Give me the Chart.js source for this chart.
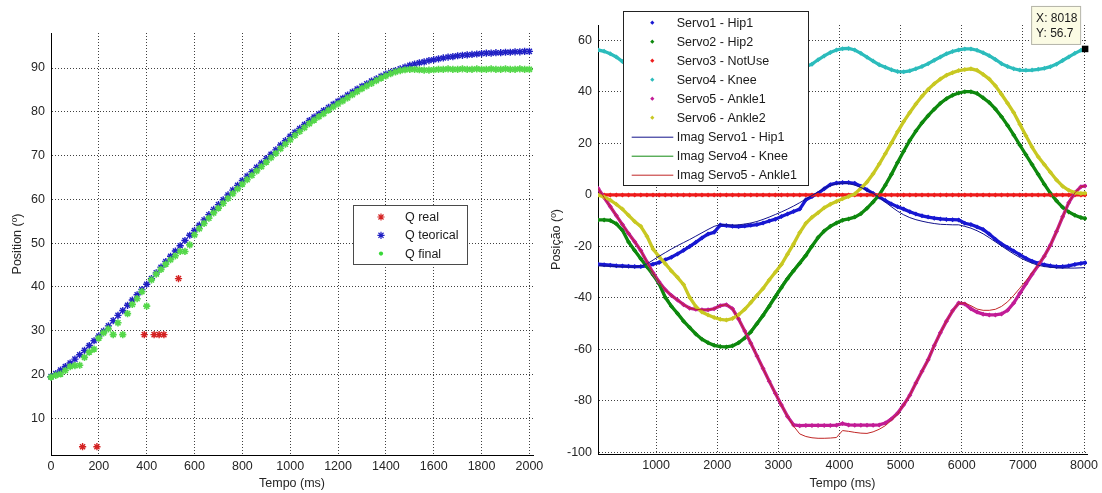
<!DOCTYPE html>
<html>
<head>
<meta charset="utf-8">
<script src="https://cdn.jsdelivr.net/npm/chart.js@4.4.1/dist/chart.umd.min.js"></script>
<style>
  html, body { margin: 0; padding: 0; background: #fff; }
  #wrap { position: relative; width: 1102px; height: 493px; overflow: hidden; background: #fff; }
  #left { position: absolute; left: 0; top: 0; width: 550px; height: 493px; }
  #right { position: absolute; left: 550px; top: 0; width: 552px; height: 493px; }
</style>
</head>
<body>
<div id="wrap">
  <canvas id="left" width="550" height="493"></canvas>
  <canvas id="right" width="552" height="493"></canvas>
</div>
<script>
// ---------- Left plot: joint position over time (sampled every 20 ms) ----------
const qStepMs = 20;
const qTeorical = [
  19.5, 20.2, 21.0, 21.8, 22.6, 23.5,
  24.5, 25.5, 26.6, 27.7, 28.8,
  29.9, 31.1, 32.3, 33.5, 34.6,
  35.8, 37.0, 38.2, 39.4, 40.6,
  41.9, 43.2, 44.5, 45.8, 47.0,
  48.2, 49.4, 50.6, 51.8, 52.9,
  54.1, 55.3, 56.5, 57.7, 58.8,
  59.9, 61.0, 62.1, 63.2, 64.3,
  65.3, 66.3, 67.3, 68.3, 69.3,
  70.3, 71.3, 72.4, 73.4, 74.4,
  75.3, 76.2, 77.1, 78.0, 78.8,
  79.5, 80.3, 81.0, 81.7, 82.4,
  83.1, 83.8, 84.5, 85.2, 85.8,
  86.4, 87.0, 87.5, 88.1, 88.6,
  89.0, 89.4, 89.8, 90.2, 90.6,
  90.9, 91.2, 91.4, 91.7, 91.9,
  92.1, 92.3, 92.5, 92.6, 92.8,
  92.9, 93.0, 93.1, 93.2, 93.3,
  93.4, 93.4, 93.5, 93.5, 93.6,
  93.6, 93.7, 93.7, 93.8, 93.8
];
const qFinal = [
  19.4, 19.8, 20.1, 20.9, 21.8, 22.0,
  22.1, 23.9, 25.1, 25.8, 28.3,
  29.5, 30.4, 29.1, 31.8, 29.1,
  33.9, 36.0, 37.3, 38.9, 35.6,
  41.6, 42.9, 44.0, 45.2, 46.2,
  47.1, 48.1, 48.1, 49.6, 51.9,
  53.3, 54.5, 55.7, 56.9, 58.0,
  59.1, 60.2, 61.3, 62.4, 63.5,
  64.5, 65.5, 66.5, 67.5, 68.5,
  69.5, 70.5, 71.6, 72.6, 73.6,
  74.6, 75.5, 76.4, 77.3, 78.1,
  78.9, 79.6, 80.4, 81.1, 81.8,
  82.5, 83.2, 83.9, 84.6, 85.3,
  85.9, 86.5, 87.1, 87.7, 88.2,
  88.7, 89.1, 89.4, 89.6, 89.7,
  89.7, 89.6, 89.5, 89.5, 89.6,
  89.7, 89.7, 89.8, 89.7, 89.7,
  89.8, 89.7, 89.7, 89.8, 89.7,
  89.7, 89.8, 89.7, 89.7, 89.8,
  89.7, 89.7, 89.8, 89.7, 89.7
];
const qRealTempo = [132, 192, 390, 431, 452, 472, 533];
const qReal = [3.5, 3.5, 29.1, 29.1, 29.1, 29.1, 41.9];
const leftXTicks = [0, 200, 400, 600, 800, 1000, 1200, 1400, 1600, 1800, 2000];
const leftYTicks = [10, 20, 30, 40, 50, 60, 70, 80, 90];

// ---------- Right plot: servo positions (sampled every 100 ms, last sample at 8018 ms) ----------
const servoTempo = [
  50, 150, 250, 350, 450, 550, 650, 750, 850, 950,
  1050, 1150, 1250, 1350, 1450, 1550, 1650, 1750, 1850, 1950,
  2050, 2150, 2250, 2350, 2450, 2550, 2650, 2750, 2850, 2950,
  3050, 3150, 3250, 3350, 3450, 3550, 3650, 3750, 3850, 3950,
  4050, 4150, 4250, 4350, 4450, 4550, 4650, 4750, 4850, 4950,
  5050, 5150, 5250, 5350, 5450, 5550, 5650, 5750, 5850, 5950,
  6050, 6150, 6250, 6350, 6450, 6550, 6650, 6750, 6850, 6950,
  7050, 7150, 7250, 7350, 7450, 7550, 7650, 7750, 7850, 7950,
  8018
];
const servo1Hip1 = [
  -26.9, -27.1, -27.3, -27.5, -27.6, -27.7, -27.8, -27.8, -27.5, -26.9,
  -26.2, -25.2, -24.2, -22.9, -21.5, -20.0, -18.4, -16.7, -15.2, -14.5,
  -11.7, -11.9, -12.2, -12.3, -12.1, -11.8, -11.5, -10.9, -10.1, -9.4,
  -8.4, -7.4, -6.4, -5.5, -1.9, -0.6, 0.6, 2.4, 4.0, 4.6,
  4.8, 4.8, 4.5, 3.4, 2.0, 0.6, -0.8, -2.2, -3.5, -4.6,
  -5.5, -6.5, -7.4, -8.1, -8.6, -9.0, -9.3, -9.5, -9.6, -9.7,
  -11.0, -11.5, -12.4, -13.4, -15.2, -17.2, -19.0, -20.4, -21.8, -23.2,
  -24.6, -25.7, -26.5, -27.1, -27.5, -27.8, -27.8, -27.5, -27.0, -26.6,
  -26.3
];
const servo2Hip2 = [
  -9.7, -9.7, -9.9, -11.2, -13.7, -18.3, -21.6, -24.8, -27.9, -31.0,
  -34.5, -39.8, -43.2, -46.0, -49.0, -51.5, -54.0, -56.0, -57.4, -58.4,
  -58.9, -59.0, -58.6, -57.4, -55.6, -53.2, -50.0, -46.8, -43.3, -39.6,
  -36.0, -32.5, -29.4, -26.5, -23.5, -19.9, -16.5, -14.0, -12.2, -10.9,
  -9.8, -9.3, -8.6, -7.3, -5.2, -2.7, 0.0, 3.8, 8.0, 12.6,
  17.0, 21.2, 24.8, 28.0, 30.8, 33.3, 35.6, 37.4, 38.7, 39.6,
  40.1, 40.1, 39.4, 37.7, 35.9, 33.4, 30.4, 27.0, 23.3, 19.4,
  15.6, 11.8, 8.0, 4.2, 0.7, -2.3, -4.8, -6.6, -7.9, -8.8,
  -9.1
];
const servo3NotUse = [
  0, 0, 0, 0, 0, 0, 0, 0, 0, 0,
  0, 0, 0, 0, 0, 0, 0, 0, 0, 0,
  0, 0, 0, 0, 0, 0, 0, 0, 0, 0,
  0, 0, 0, 0, 0, 0, 0, 0, 0, 0,
  0, 0, 0, 0, 0, 0, 0, 0, 0, 0,
  0, 0, 0, 0, 0, 0, 0, 0, 0, 0,
  0, 0, 0, 0, 0, 0, 0, 0, 0, 0,
  0, 0, 0, 0, 0, 0, 0, 0, 0, 0,
  0
];
const servo4Knee = [
  56.3, 55.8, 54.8, 53.6, 51.8, 50.4, 49.5, 49.0, 48.7, 48.6,
  48.8, 49.3, 50.2, 51.3, 52.5, 53.7, 54.8, 55.7, 56.3, 56.6,
  56.7, 56.5, 56.0, 55.2, 54.2, 53.1, 52.0, 51.0, 50.2, 49.6,
  49.3, 49.2, 49.3, 49.5, 49.8, 50.8, 52.5, 54.0, 55.3, 56.3,
  56.8, 56.9, 56.3, 55.0, 53.5, 52.0, 50.6, 49.6, 48.6, 47.9,
  47.8, 48.2, 49.0, 49.9, 51.0, 52.3, 53.6, 54.8, 55.7, 56.3,
  56.7, 56.7, 56.2, 55.2, 54.1, 52.6, 51.0, 49.9, 49.0, 48.5,
  48.4, 48.5, 48.8, 49.2, 49.8, 50.8, 52.2, 53.6, 55.0, 56.2,
  56.7
];
const servo5Ankle1 = [
  2.6, -1.0, -4.5, -8.0, -11.5, -15.0, -18.2, -21.6, -26.0, -30.2,
  -33.8, -36.8, -39.0, -40.8, -42.6, -44.0, -44.4, -44.6, -44.6, -44.2,
  -43.0, -42.6, -44.2, -48.2, -52.8, -57.6, -62.5, -67.4, -72.3, -77.0,
  -81.6, -86.0, -89.3, -89.6, -89.5, -89.5, -89.5, -89.5, -89.5, -89.4,
  -88.8, -89.3, -89.4, -89.4, -89.4, -89.4, -89.3, -88.6, -87.0, -84.8,
  -81.5, -77.8, -73.0, -68.5, -64.0, -58.5, -53.5, -49.0, -45.0, -42.0,
  -42.3, -44.2, -45.5, -46.3, -46.6, -46.6, -46.2, -44.8, -42.0, -38.2,
  -34.5, -30.8, -27.4, -23.8, -19.5, -14.2, -8.5, -3.0, 0.8, 3.2,
  3.5
];
const servo6Ankle2 = [
  0.0, -0.8, -2.0, -3.6, -5.5, -7.9, -10.3, -12.2, -16.0, -21.0,
  -24.0, -26.7, -29.5, -32.0, -34.8, -39.8, -43.3, -45.5, -46.6, -47.6,
  -48.3, -48.6, -48.0, -46.5, -44.4, -41.8, -39.0, -36.3, -33.0, -30.0,
  -27.0, -23.0, -19.0, -14.6, -11.0, -8.7, -6.9, -5.0, -3.6, -2.5,
  -1.5, -0.6, 0.4, 2.6, 5.0, 8.2, 12.0, 16.0, 20.2, 24.5,
  28.5, 32.0, 35.3, 38.3, 41.0, 43.2, 45.0, 46.5, 47.5, 48.3,
  48.7, 49.0, 48.4, 46.8, 45.0, 42.4, 39.1, 35.6, 32.0, 27.5,
  23.0, 18.6, 14.8, 11.8, 8.8, 5.8, 3.4, 1.8, 0.9, 0.6,
  0.7
];
const imagServo1Hip1 = [
  -27.5, -27.6, -27.7, -27.8, -27.9, -28.0, -28.0, -27.6, -26.8, -25.3,
  -23.8, -22.4, -21.0, -19.7, -18.5, -17.3, -16.0, -14.7, -13.4, -12.2,
  -11.5, -11.6, -11.7, -11.6, -11.3, -10.9, -10.3, -9.5, -8.6, -7.6,
  -6.6, -5.5, -4.3, -3.0, -1.6, -0.2, 1.2, 2.6, 3.7, 4.3,
  4.6, 4.4, 3.8, 2.9, 1.8, 0.6, -1.0, -2.8, -4.6, -6.3,
  -7.7, -8.8, -9.6, -10.2, -10.7, -11.1, -11.4, -11.5, -11.6, -11.6,
  -12.2, -12.9, -13.9, -15.1, -16.6, -18.2, -19.8, -21.4, -22.9, -24.3,
  -25.5, -26.5, -27.3, -27.8, -28.1, -28.3, -28.4, -28.4, -28.4, -28.3,
  -28.2
];
const imagServo4Knee = [
  -9.5, -9.6, -10.2, -11.8, -14.5, -17.8, -21.0, -24.2, -27.4, -30.6,
  -34.0, -38.8, -42.5, -45.6, -48.6, -51.2, -53.7, -55.8, -57.2, -58.2,
  -58.7, -58.8, -58.3, -57.0, -55.0, -52.4, -49.2, -45.9, -42.3, -38.6,
  -35.0, -31.6, -28.6, -25.7, -22.6, -19.3, -16.3, -13.9, -12.2, -11.0,
  -10.0, -9.4, -8.5, -7.0, -4.8, -2.2, 0.6, 4.4, 8.6, 13.1,
  17.5, 21.6, 25.2, 28.4, 31.2, 33.7, 35.9, 37.7, 38.9, 39.8,
  40.3, 40.2, 39.5, 37.9, 36.0, 33.6, 30.6, 27.2, 23.5, 19.6,
  15.8, 12.0, 8.2, 4.4, 0.9, -2.2, -4.7, -6.5, -7.8, -8.7,
  -9.0
];
const imagServo5Ankle1 = [
  2.6, -1.0, -4.5, -8.0, -11.5, -15.0, -18.2, -21.6, -26.0, -30.2,
  -33.8, -36.8, -39.0, -40.8, -42.6, -44.0, -44.4, -44.6, -44.6, -44.2,
  -43.0, -42.6, -44.2, -48.2, -52.8, -57.6, -62.5, -67.4, -72.3, -77.0,
  -81.6, -86.0, -89.8, -92.8, -93.8, -94.3, -94.5, -94.5, -94.4, -94.2,
  -91.5, -91.8, -92.2, -92.5, -92.6, -92.0, -91.0, -89.6, -87.5, -85.0,
  -81.5, -77.8, -73.0, -68.5, -64.0, -58.5, -53.5, -49.0, -45.0, -42.0,
  -42.0, -43.0, -44.3, -44.8, -44.8, -44.4, -43.3, -41.5, -39.0, -36.2,
  -33.3, -30.3, -27.2, -23.8, -19.5, -14.2, -8.5, -3.0, 0.8, 3.2,
  3.5
];
const tipTempo = [8018];
const tipValue = [56.7];
const rightXTicks = [1000, 2000, 3000, 4000, 5000, 6000, 7000, 8000];
const rightYTicks = [-100, -80, -60, -40, -20, 0, 20, 40, 60];

// ---------- Shared styling ----------
const INK = '#262626';
const GRID = 'rgba(30,30,30,0.85)';
const FONT = '"Liberation Sans", Arial, Helvetica, sans-serif';
Chart.defaults.font.family = FONT;
Chart.defaults.font.size = 12.5;
Chart.defaults.color = INK;

const toPoints = (xs, ys) => ys.map((y, i) => ({ x: xs[i], y }));
const qTempo = qTeorical.map((_, i) => i * qStepMs);

function xAxis(min, max, ticks, title, height) {
  return {
    type: 'linear', position: 'bottom', min, max,
    afterBuildTicks: s => { s.ticks = ticks.map(v => ({ value: v })); },
    afterFit: s => { s.height = height; },
    ticks: { autoSkip: false, maxRotation: 0, padding: 4, color: INK, callback: v => String(v) },
    grid: { color: GRID, lineWidth: 1, drawTicks: false },
    border: { display: true, color: '#000', width: 1, dash: [1, 2] },
    title: { display: true, text: title, color: INK, padding: { top: 0, bottom: 2.2 } }
  };
}
function yAxis(min, max, ticks, title, width, titlePad) {
  return {
    type: 'linear', position: 'left', min, max,
    afterBuildTicks: s => { s.ticks = ticks.map(v => ({ value: v })); },
    afterFit: s => { s.width = width; },
    ticks: { autoSkip: false, padding: 6, color: INK, callback: v => String(v) },
    grid: { color: GRID, lineWidth: 1, drawTicks: false },
    border: { display: true, color: '#000', width: 1, dash: [1, 2] },
    title: { display: true, text: title, color: INK, padding: { top: titlePad, bottom: 0 } }
  };
}

function markerAt(ctx, kind, x, y, color) {
  ctx.save();
  ctx.strokeStyle = color; ctx.fillStyle = color; ctx.lineWidth = 1.2;
  ctx.beginPath();
  if (kind === 'star') {
    const r = 3.6;
    for (let k = 0; k < 4; k++) {
      const a = k * Math.PI / 4;
      ctx.moveTo(x - r * Math.cos(a), y - r * Math.sin(a));
      ctx.lineTo(x + r * Math.cos(a), y + r * Math.sin(a));
    }
    ctx.stroke();
  } else if (kind === 'dot') {
    ctx.arc(x, y, 2.1, 0, Math.PI * 2); ctx.fill();
  } else if (kind === 'diamond') {
    const r = 2.1;
    ctx.moveTo(x, y - r); ctx.lineTo(x + r, y); ctx.lineTo(x, y + r); ctx.lineTo(x - r, y);
    ctx.closePath(); ctx.fill();
  }
  ctx.restore();
}

// Boxed legend drawn inside the plot, one row per entry
function boxLegend(id, box) {
  return {
    id,
    afterDatasetsDraw(chart) {
      const ctx = chart.ctx;
      ctx.save();
      ctx.fillStyle = '#fff';
      ctx.fillRect(box.x, box.y, box.w, box.h);
      ctx.strokeStyle = box.border; ctx.lineWidth = 1;
      ctx.strokeRect(box.x + 0.5, box.y + 0.5, box.w, box.h);
      ctx.font = '12.5px ' + FONT;
      ctx.textBaseline = 'middle'; ctx.textAlign = 'left';
      box.entries.forEach((e, i) => {
        const ds = chart.data.datasets[e.ds];
        const y = box.row0 + i * box.step;
        if (e.kind === 'line') {
          ctx.strokeStyle = ds.borderColor; ctx.lineWidth = 1;
          ctx.beginPath(); ctx.moveTo(box.lineX0, y + 0.5); ctx.lineTo(box.lineX1, y + 0.5); ctx.stroke();
        } else {
          markerAt(ctx, e.kind, box.markX, y, ds.pointBackgroundColor || ds.borderColor);
        }
        ctx.fillStyle = '#1a1a1a';
        ctx.fillText(ds.label, box.textX, y + 0.5);
      });
      ctx.restore();
    }
  };
}

// ---------- Left chart ----------
new Chart(document.getElementById('left'), {
  type: 'scatter',
  data: {
    datasets: [
      { label: 'Q real', data: toPoints(qRealTempo, qReal), pointStyle: 'star', pointRadius: 3.6,
        borderColor: '#d42222', pointBackgroundColor: '#d42222', pointBorderWidth: 1.4, showLine: false, order: 3, clip: 8 },
      { label: 'Q teorical', data: toPoints(qTempo, qTeorical), pointStyle: 'star', pointRadius: 3.6,
        borderColor: '#2020c4', pointBackgroundColor: '#2020c4', pointBorderWidth: 1.4, showLine: false, order: 2, clip: 8 },
      { label: 'Q final', data: toPoints(qTempo, qFinal), pointStyle: 'star', pointRadius: 3.6,
        borderColor: '#55d84a', pointBackgroundColor: '#38d838', pointBorderWidth: 1.6, showLine: false, order: 1, clip: 8 }
    ]
  },
  options: {
    responsive: false, animation: false, devicePixelRatio: 1,
    layout: { padding: { left: 0, right: 17, top: 33, bottom: 0 } },
    plugins: { legend: { display: false }, tooltip: { enabled: false } },
    scales: {
      x: xAxis(0, 2015, leftXTicks, 'Tempo (ms)', 38),
      y: yAxis(1.6, 98, leftYTicks, 'Position (º)', 51, 10)
    }
  },
  plugins: [boxLegend('qLegend', {
    x: 353, y: 205, w: 114, h: 59, border: '#4a4a4a',
    row0: 217, step: 18.3, markX: 381, textX: 405,
    entries: [{ ds: 0, kind: 'star' }, { ds: 1, kind: 'star' }, { ds: 2, kind: 'dot' }]
  })]
});

// ---------- Right chart ----------
function servoSet(label, values, color, order) {
  return {
    label, data: toPoints(servoTempo, values), showLine: true,
    borderColor: color, backgroundColor: color, borderWidth: 3.3,
    pointStyle: 'rectRot', pointRadius: 2.5, pointBorderWidth: 0,
    pointBackgroundColor: color, order
  };
}
function imagSet(label, values, color, order) {
  return {
    label, data: toPoints(servoTempo, values), showLine: true,
    borderColor: color, backgroundColor: color, borderWidth: 1,
    pointRadius: 0, order
  };
}

const tipPlugin = {
  id: 'dataTip',
  afterDatasetsDraw(chart) {
    const { ctx, scales: { x, y } } = chart;
    const px = x.getPixelForValue(tipTempo[0]);
    const py = y.getPixelForValue(tipValue[0]);
    const bx = px - 54, by = py - 43, bw = 49, bh = 38;
    ctx.save();
    ctx.fillStyle = '#fbfbe4';
    ctx.fillRect(bx, by, bw, bh);
    ctx.strokeStyle = '#b4b4a8'; ctx.lineWidth = 1;
    ctx.strokeRect(bx + 0.5, by + 0.5, bw, bh);
    ctx.fillStyle = '#1a1a1a';
    ctx.font = '12px ' + FONT;
    ctx.textBaseline = 'middle'; ctx.textAlign = 'left';
    ctx.fillText('X: ' + tipTempo[0], bx + 5, by + 12.5);
    ctx.fillText('Y: ' + tipValue[0], bx + 5, by + 27.5);
    ctx.restore();
  }
};

new Chart(document.getElementById('right'), {
  type: 'scatter',
  data: {
    datasets: [
      servoSet('Servo1 - Hip1', servo1Hip1, '#1717d2', 10),
      servoSet('Servo2 - Hip2', servo2Hip2, '#0c880c', 9),
      servoSet('Servo3 - NotUse', servo3NotUse, '#ee1c1c', 8),
      servoSet('Servo4 - Knee', servo4Knee, '#2cbcbc', 7),
      servoSet('Servo5 - Ankle1', servo5Ankle1, '#c21c96', 6),
      servoSet('Servo6 - Ankle2', servo6Ankle2, '#c8c822', 5),
      imagSet('Imag Servo1 - Hip1', imagServo1Hip1, '#12128a', 4),
      imagSet('Imag Servo4 - Knee', imagServo4Knee, '#128a12', 3),
      imagSet('Imag Servo5 - Ankle1', imagServo5Ankle1, '#c02626', 2),
      { label: 'tip', data: toPoints(tipTempo, tipValue), pointStyle: 'rect', pointRadius: 4.6,
        pointBackgroundColor: '#000', borderColor: '#000', pointBorderWidth: 0, showLine: false, order: 1, clip: false }
    ]
  },
  options: {
    responsive: false, animation: false, devicePixelRatio: 1,
    layout: { padding: { left: 0, right: 12, top: 25, bottom: 0 } },
    plugins: { legend: { display: false }, tooltip: { enabled: false } },
    scales: {
      x: xAxis(50, 8050, rightXTicks, 'Tempo (ms)', 39),
      y: yAxis(-100.6, 66, rightYTicks, 'Posição (º)', 48, -1)
    }
  },
  plugins: [boxLegend('servoLegend', {
    x: 73, y: 11, w: 185, h: 174, border: '#222',
    row0: 22.7, step: 19, markX: 102.3, textX: 126.7, lineX0: 81.7, lineX1: 123.3,
    entries: [
      { ds: 0, kind: 'diamond' }, { ds: 1, kind: 'diamond' }, { ds: 2, kind: 'diamond' },
      { ds: 3, kind: 'diamond' }, { ds: 4, kind: 'diamond' }, { ds: 5, kind: 'diamond' },
      { ds: 6, kind: 'line' }, { ds: 7, kind: 'line' }, { ds: 8, kind: 'line' }
    ]
  }), tipPlugin]
});
</script>
</body>
</html>
